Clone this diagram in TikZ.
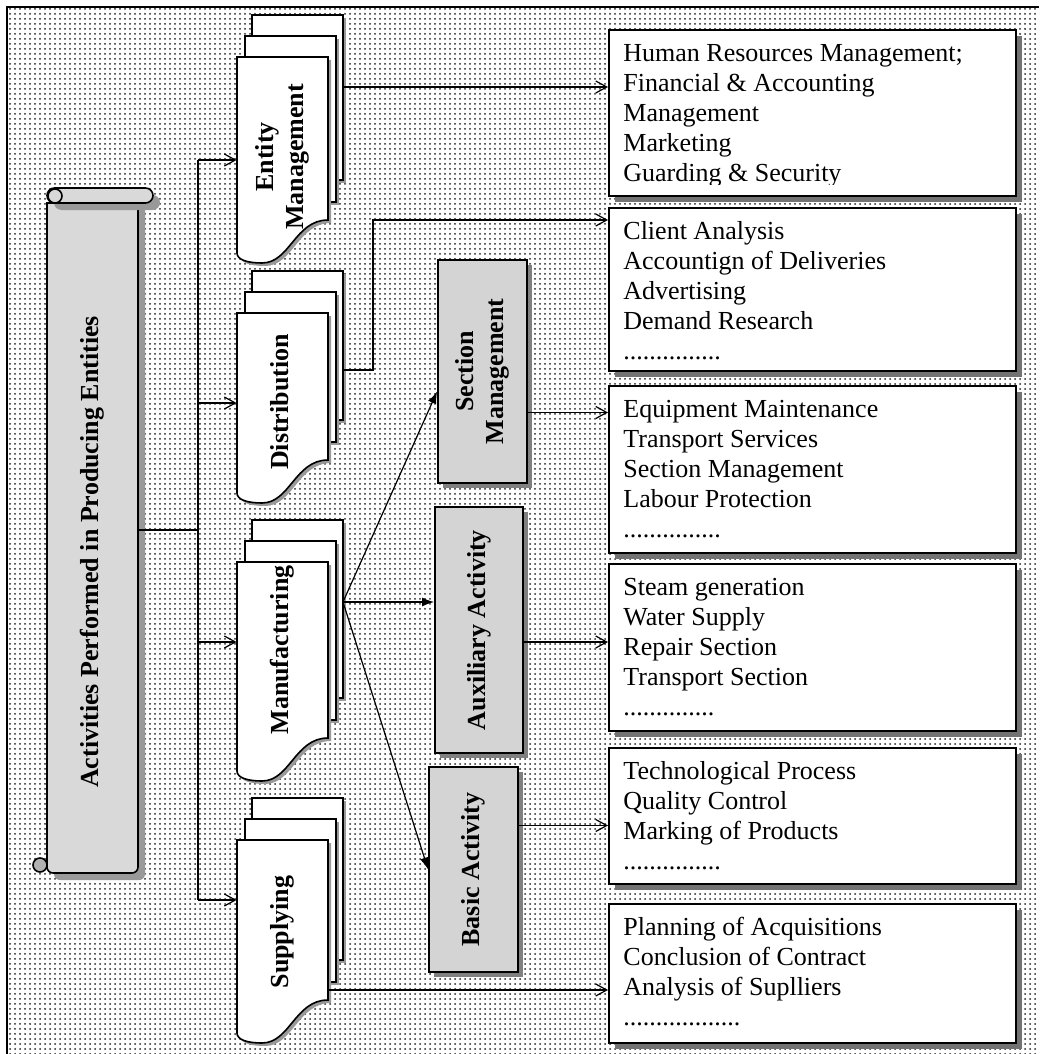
\documentclass[tikz,border=0pt]{standalone}
\usepackage{fontspec}
\usepackage{graphicx}
\setmainfont{Liberation Serif}
\usetikzlibrary{arrows.meta,shadows,patterns.meta}
\newcommand{\diagfont}{\fontsize{13}{15}\selectfont}
\newcommand{\uptext}[1]{\rotatebox{90}{\begin{tabular}{@{}c@{}}#1\end{tabular}}}
\tikzdeclarepattern{
  name=finedots, type=uncolored,
  bottom left={(-1.25pt,-1.25pt)}, top right={(1.25pt,1.25pt)},
  tile size={(2.5pt,2.5pt)},
  code={\pgfpathcircle{\pgfpointorigin}{0.5pt}\pgfusepath{fill}}
}
\tikzset{
  sheet/.style={draw, fill=white, line width=0.8pt,
    drop shadow={shadow xshift=1.5pt, shadow yshift=-1.5pt, fill=black!40, opacity=1}},
  scrollbody/.style={draw, fill=black!15, line width=0.8pt,
    drop shadow={shadow xshift=3.5pt, shadow yshift=-3.5pt, fill=black!40, opacity=1}},
  doclabel/.style={inner sep=0, minimum width=45.5pt, font=\diagfont\bfseries},
  graybox/.style={draw, fill=black!17, line width=0.9pt, inner sep=0, font=\diagfont\bfseries,
    drop shadow={shadow xshift=2.5pt, shadow yshift=-2.5pt, fill=black!50, opacity=1}},
  infobox/.style={draw, fill=white, line width=0.9pt, inner sep=0, anchor=north west,
    minimum width=203.5pt,
    drop shadow={shadow xshift=3pt, shadow yshift=-3pt, fill=black!55, opacity=1}},
  listtext/.style={anchor=north west, align=left, inner sep=0, font=\diagfont},
  link/.style={line width=0.6pt},
  openarrow/.style={link, -{Straight Barb[length=5.5pt,width=6pt]}},
  fillarrow/.style={link, -{Latex[length=6pt,width=4.5pt]}}
}
\begin{document}
\begin{tikzpicture}[x=0.5pt,y=-0.5pt]
  \fill[white] (0,0) rectangle (1039,1054);
  \useasboundingbox (0,0) rectangle (1039,1054);
  \fill[pattern=finedots, pattern color=black!85] (7,7) rectangle (1039,1054);
  \draw[line width=0.8pt] (7,1054) -- (7,7) -- (1039,7);

  \draw[fill=black!30, line width=0.8pt] (40,865) circle (3.5pt);
  \draw[scrollbody] (47,203) -- (138,203) [rounded corners=3pt] -- (138,873) -- (47,873) [sharp corners] -- cycle;
  \draw[scrollbody, rounded corners=3.75pt] (47,188) rectangle (153,203);
  \draw[fill=black!15, line width=0.8pt] (55,196) circle (3.5pt);
  \node[doclabel, minimum height=335pt] (act) at (92.5,552) {\uptext{Activities Performed in Producing Entities}};

  \foreach \T/\h/\ly/\n/\lbl in {57/163/157/ent/{Entity\\Management}, 313/147/402/dis/Distribution,
      562/176/650/man/Manufacturing, 840/160/932/sup/Supplying} {
    \draw[sheet] (252,\T-42) rectangle (343,\T+\h-40);
    \draw[sheet] (245,\T-21) rectangle (336,\T+\h-18);
    \draw[sheet] (237,\T+\h+33) -- (237,\T) -- (328,\T) -- (328,\T+\h)
      .. controls (295,\T+\h) and (290,\T+\h+43) .. (262,\T+\h+43)
      .. controls (248,\T+\h+43) and (237,\T+\h+40) .. (237,\T+\h+33) -- cycle;
    \node[doclabel] (\n) at (282.5,\ly) {\uptext{\lbl}};
  }

  \coordinate (trunk) at (198,530);
  \foreach \n/\y in {ent/160, dis/403, man/642, sup/900}
    \coordinate (j-\n) at (198,\y);
  \draw[link] (act.east |- trunk) -- (trunk);
  \draw[link] (j-ent) -- (j-sup);
  \foreach \n in {ent,dis,man,sup}
    \draw[openarrow] (j-\n) -- (j-\n -| \n.west);

  \node[graybox, minimum width=44.5pt, minimum height=111.5pt] (sec) at (482.5,371.5) {\uptext{Section\\Management}};
  \node[graybox, minimum width=44pt, minimum height=123pt] (aux) at (479,630) {\uptext{Auxiliary Activity}};
  \node[graybox, minimum width=44.5pt, minimum height=102.5pt] (bas) at (473.5,869.5) {\uptext{Basic Activity}};

  \coordinate (man-out) at (343,602);
  \draw[fillarrow] (man-out) -- ([yshift=-10pt]sec.west);
  \draw[fillarrow] (man-out) -- (man-out -| aux.west);
  \draw[fillarrow] (man-out) -- (bas.west);

  \node[infobox, minimum height=83pt] (hr) at (608,29) {};
  \node[infobox, minimum height=81.5pt] (cli) at (608,207) {};
  \node[infobox, minimum height=83.5pt] (eqp) at (608,385) {};
  \node[infobox, minimum height=83.5pt] (stm) at (608,563) {};
  \node[infobox, minimum height=68pt] (tec) at (608,747) {};
  \node[infobox, minimum height=69.5pt] (pln) at (608,903) {};

  \begin{scope}
    \clip (608,29) rectangle (1015,184);
    \node[listtext] (hr-txt) at ([xshift=7.5pt,yshift=-5.5pt]hr.north west)
      {\strut Human Resources Management;\\ Financial \& Accounting\\ Management\\ Marketing\\ Guarding \& Security};
  \end{scope}
  \node[listtext] (cli-txt) at ([xshift=7.5pt,yshift=-5.5pt]cli.north west)
    {\strut Client Analysis\\ Accountign of Deliveries\\ Advertising\\ Demand Research\\ ...............};
  \node[listtext] (eqp-txt) at ([xshift=7.5pt,yshift=-5.5pt]eqp.north west)
    {\strut Equipment Maintenance\\ Transport Services\\ Section Management\\ Labour Protection\\ ...............};
  \node[listtext] (stm-txt) at ([xshift=7.5pt,yshift=-5.5pt]stm.north west)
    {\strut Steam generation\\ Water Supply\\ Repair Section\\ Transport Section\\ ..............};
  \node[listtext] (tec-txt) at ([xshift=7.5pt,yshift=-5.5pt]tec.north west)
    {\strut Technological Process\\ Quality Control\\ Marking of Products\\ ...............};
  \node[listtext] (pln-txt) at ([xshift=7.5pt,yshift=-5.5pt]pln.north west)
    {\strut Planning of Acquisitions\\ Conclusion of Contract\\ Analysis of Suplliers\\ ..................};

  \coordinate (ent-out) at (343,87);
  \draw[openarrow] (ent-out) -- (ent-out -| hr.west);
  \coordinate (dis-out) at (343,370);
  \coordinate (dis-up) at (373,220);
  \draw[openarrow] (dis-out) -| (dis-up) -- (dis-up -| cli.west);
  \coordinate (sec-out) at ([yshift=-20.5pt]sec.east);
  \draw[openarrow] (sec-out) -- (sec-out -| eqp.west);
  \coordinate (aux-out) at ([yshift=-6pt]aux.east);
  \draw[openarrow] (aux-out) -- (aux-out -| stm.west);
  \coordinate (bas-out) at ([yshift=22pt]bas.east);
  \draw[openarrow] (bas-out) -- (bas-out -| tec.west);
  \coordinate (sup-out) at (328,990);
  \draw[openarrow] (sup-out) -- (sup-out -| pln.west);
\end{tikzpicture}
\end{document}
